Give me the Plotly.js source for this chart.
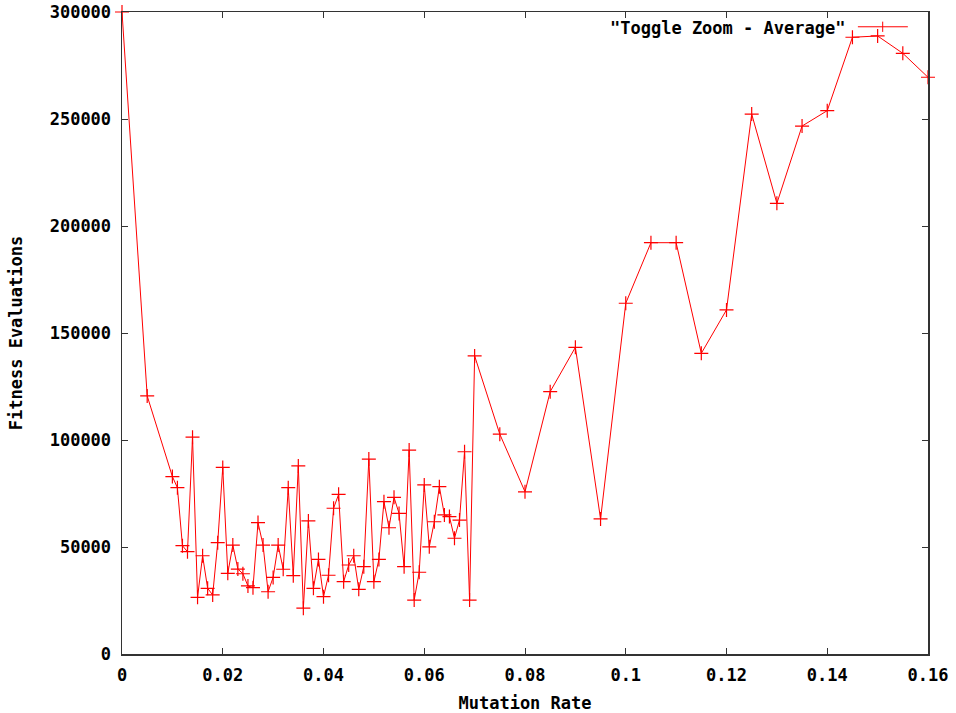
<!DOCTYPE html>
<html>
<head>
<meta charset="utf-8">
<script src="https://cdn.plot.ly/plotly-3.0.1.min.js"></script>
<style>html,body{margin:0;padding:0;background:#fff}#chart{width:956px;height:713px}</style>
</head>
<body>
<div id="chart"></div>
<script>
const seriesName = '"Toggle Zoom - Average"';
const mutationRate = [
  0, 0.005,
  0.010, 0.011, 0.012, 0.013, 0.014, 0.015, 0.016, 0.017, 0.018, 0.019,
  0.020, 0.021, 0.022, 0.023, 0.024, 0.025, 0.026, 0.027, 0.028, 0.029,
  0.030, 0.031, 0.032, 0.033, 0.034, 0.035, 0.036, 0.037, 0.038, 0.039,
  0.040, 0.041, 0.042, 0.043, 0.044, 0.045, 0.046, 0.047, 0.048, 0.049,
  0.050, 0.051, 0.052, 0.053, 0.054, 0.055, 0.056, 0.057, 0.058, 0.059,
  0.060, 0.061, 0.062, 0.063, 0.064, 0.065, 0.066, 0.067, 0.068, 0.069,
  0.070, 0.075, 0.080, 0.085, 0.090, 0.095, 0.100, 0.105, 0.110, 0.115,
  0.120, 0.125, 0.130, 0.135, 0.140, 0.145, 0.150, 0.155, 0.160
];
const fitnessEvaluations = [
  300000, 120600,
  82900, 77700, 50600, 47800, 101300, 26500, 45900, 30700, 27600, 52000,
  87200, 37700, 50900, 39700, 37500, 31800, 31000, 61400, 50900, 29100,
  35800, 50900, 39600, 77700, 36600, 87900, 21400, 62200, 30700, 44200,
  26800, 36800, 68100, 74600, 33800, 41600, 45900, 30200, 40800, 91100,
  33800, 44200, 71200, 59000, 73200, 65700, 40800, 95300, 25200, 38200,
  79000, 50100, 61800, 78200, 65000, 64200, 54100, 62600, 94500, 25200,
  139300, 102700, 75800, 122600, 143300, 63100, 163900, 192200, 192200, 140500,
  160800, 252300, 210600, 246700, 253900, 288200, 288800, 280700, 269500
];
const xTickVals = [0, 0.02, 0.04, 0.06, 0.08, 0.1, 0.12, 0.14, 0.16];
const xTickText = ['0', '0.02', '0.04', '0.06', '0.08', '0.1', '0.12', '0.14', '0.16'];
const yTickVals = [0, 50000, 100000, 150000, 200000, 250000, 300000];
const yTickText = ['0', '50000', '100000', '150000', '200000', '250000', '300000'];

const FONT = 'DejaVu Sans Mono, monospace';
const FS = 17;
const RED = '#ff0000';
const AX = '#333333';

const trace = {
  x: mutationRate,
  y: fitnessEvaluations,
  type: 'scatter',
  mode: 'lines+markers',
  name: seriesName,
  line: {color: RED, width: 1},
  marker: {symbol: 'cross-thin-open', size: 10, color: RED, line: {color: RED, width: 1.2}},
  showlegend: false,
  cliponaxis: false
};

const layout = {
  width: 956, height: 713,
  margin: {l: 122, r: 28, t: 12, b: 59},
  paper_bgcolor: '#ffffff', plot_bgcolor: '#ffffff',
  font: {family: FONT, size: FS, color: '#000'},
  showlegend: false,
  xaxis: {
    range: [0, 0.16], tickvals: xTickVals, ticktext: xTickText,
    showgrid: false, zeroline: false, showline: true, linecolor: AX, linewidth: 1.5,
    mirror: 'ticks', ticks: 'inside', ticklen: 6, tickcolor: AX, tickwidth: 1,
    tickfont: {family: FONT, size: FS, weight: 'bold'},
    ticklabelstandoff: 5,
    title: {text: 'Mutation Rate', font: {family: FONT, size: FS, weight: 'bold'}, standoff: 14}
  },
  yaxis: {
    range: [0, 300000], tickvals: yTickVals, ticktext: yTickText,
    showgrid: false, zeroline: false, showline: true, linecolor: AX, linewidth: 1.5,
    mirror: 'ticks', ticks: 'inside', ticklen: 6, tickcolor: AX, tickwidth: 1,
    tickfont: {family: FONT, size: FS, weight: 'bold'},
    ticklabelstandoff: 6,
    title: {text: 'Fitness Evaluations', font: {family: FONT, size: FS, weight: 'bold'}, standoff: 22}
  },
  annotations: [{
    xref: 'paper', yref: 'paper', x: 0.8995, y: 0.975,
    xanchor: 'right', yanchor: 'middle', showarrow: false,
    text: seriesName, font: {family: FONT, size: FS, weight: 'bold', color: '#000'}
  }],
  shapes: [
    {type: 'line', xref: 'paper', yref: 'paper', x0: 0.913, x1: 0.975, y0: 0.977, y1: 0.977, line: {color: RED, width: 1}},
    {type: 'line', xref: 'paper', yref: 'paper', x0: 0.9438, x1: 0.9438, y0: 0.969, y1: 0.985, line: {color: RED, width: 1}}
  ]
};

Plotly.newPlot('chart', [trace], layout, {displayModeBar: false, staticPlot: true});
</script>
</body>
</html>
